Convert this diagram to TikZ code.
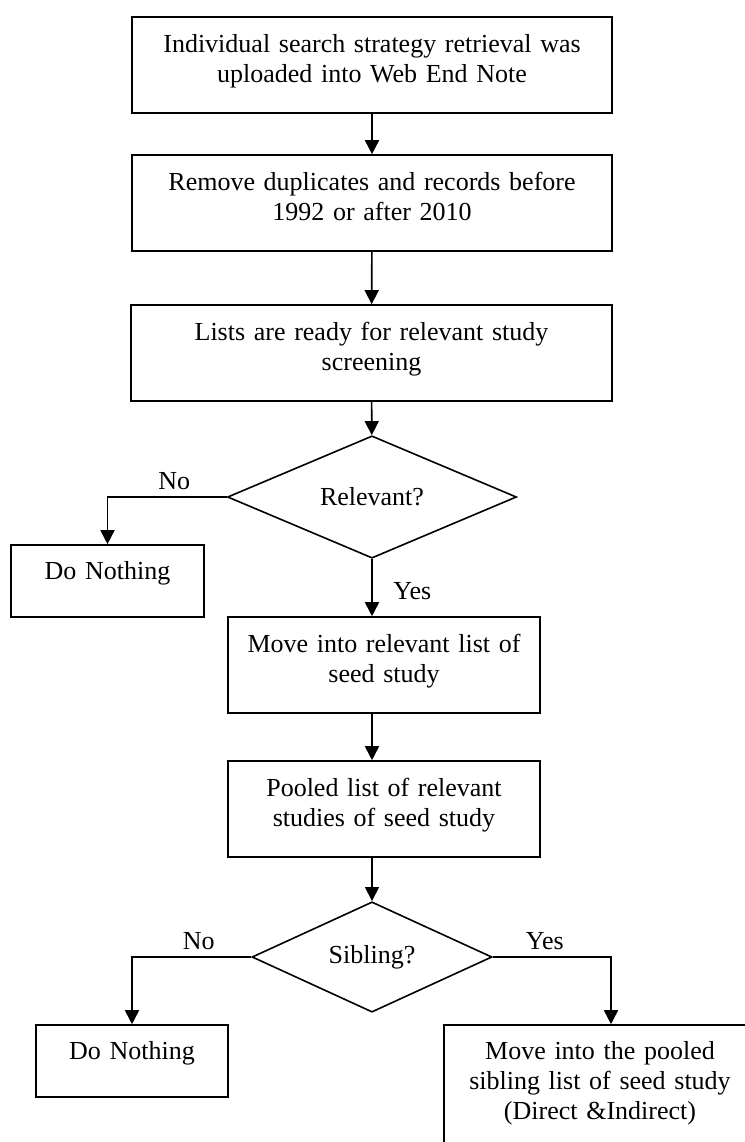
\documentclass[tikz,border=0pt]{standalone}
\usepackage{fontspec}
\setmainfont{Liberation Serif}
\usetikzlibrary{shapes.geometric,arrows.meta}

\begin{document}
\begin{tikzpicture}[x=0.5pt,y=-0.5pt,
  every node/.style={font=\fontsize{13pt}{15pt}\selectfont},
  box/.style={draw,line width=0.8pt,inner sep=0pt,align=center,text width=#1},
  twoline/.style={text height=17.5pt,text depth=30.5pt},
  oneline/.style={text height=17pt,text depth=19pt},
  query/.style={draw,line width=0.8pt,diamond,inner sep=0pt},
  link/.style={line width=0.8pt,-{Triangle[length=7pt,width=7pt]}}]
\useasboundingbox (0,0) rectangle (745,1142);
\clip (0,0) rectangle (745,1142);

\node[box=240pt,twoline] (b1) at (372,65) {Individual search strategy retrieval was\\uploaded into Web End Note};
\node[box=240pt,twoline] (b2) at (372,203) {Remove duplicates and records before\\1992 or after 2010};
\node[box=240.5pt,twoline] (b3) at (371.5,353) {Lists are ready for relevant study\\screening};
\node[query,minimum width=144.5pt,minimum height=47.5pt] (rel) at (372,497) {Relevant?};
\node[box=96.5pt,oneline] (no1) at (107.5,581) {Do Nothing};
\node[box=156pt,twoline] (mv) at (384,665) {Move into relevant list of\\seed study};
\node[box=156pt,twoline] (pool) at (384,809) {Pooled list of relevant\\studies of seed study};
\node[query,minimum width=120pt,minimum height=51pt] (sib) at (372,957) {Sibling?};
\node[box=96pt,oneline] (no2) at (132,1061) {Do Nothing};
\node[box=156pt,text height=17pt,text depth=50.5pt] (sl) at (600,1092.5) {Move into the pooled\\sibling list of seed study\\(Direct \&Indirect)};

\draw[link] (b1) -- (b2);
\draw[link] (b2) -- (b3);
\draw[link] (b3) -- (rel);
\draw[link] (rel.west) -| node[pos=0.22,above] {No} (no1.north);
\draw[link] (rel.south) -- node[pos=0.56,right,xshift=7pt] {Yes} (rel.south |- mv.north);
\draw[link] (mv.south -| rel.south) -- (pool.north -| rel.south);
\draw[link] (pool.south -| sib.north) -- (sib.north);
\draw[link] (sib.west) -| node[pos=0.22,above] {No} (no2.north);
\draw[link] (sib.east) -| node[pos=0.22,above] {Yes} ([xshift=5.5pt]sl.north);
\end{tikzpicture}
\end{document}
